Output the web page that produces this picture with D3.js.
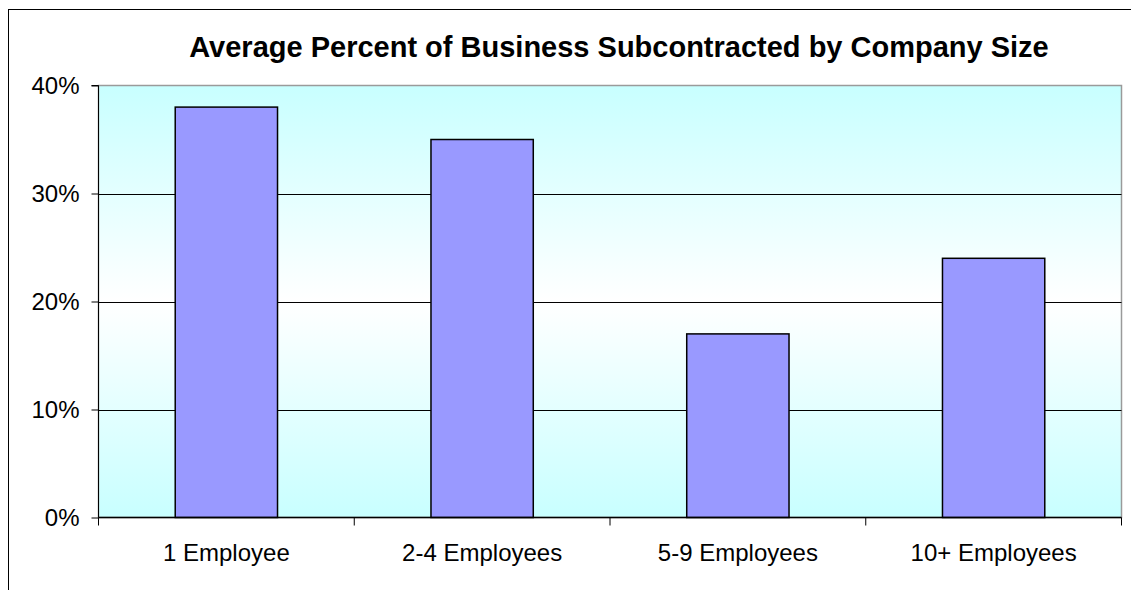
<!DOCTYPE html>
<html>
<head>
<meta charset="utf-8">
<script src="https://cdn.jsdelivr.net/npm/d3@7"></script>
<style>
  html, body { margin: 0; padding: 0; background: #fff; }
  svg { display: block; font-family: Arial, "Liberation Sans", sans-serif; }
</style>
</head>
<body>
<svg id="chart" width="1131" height="590"></svg>
<script>
// Average share of business subcontracted, by company size
const categories = ["1 Employee", "2-4 Employees", "5-9 Employees", "10+ Employees"];
const values = [0.38, 0.35, 0.17, 0.24];
const yTicks = [0, 0.1, 0.2, 0.3, 0.4];
const title = "Average Percent of Business Subcontracted by Company Size";

const svg = d3.select("#chart");
const W = 1131, H = 590;
const plot = { left: 98.5, right: 1121.5, top: 85.5, bottom: 517.5 };

// Outer chart frame
svg.append("rect")
  .attr("x", 8.5).attr("y", 9.5)
  .attr("width", W + 20).attr("height", H + 20)
  .attr("fill", "#fff").attr("stroke", "#000").attr("stroke-width", 1);

// Plot background gradient: cyan at the edges, near-white in the middle
const defs = svg.append("defs");
const grad = defs.append("linearGradient")
  .attr("id", "plotBg").attr("x1", 0).attr("y1", 0).attr("x2", 0).attr("y2", 1);
grad.append("stop").attr("offset", "0%").attr("stop-color", "#c8ffff");
grad.append("stop").attr("offset", "50%").attr("stop-color", "#ffffff");
grad.append("stop").attr("offset", "100%").attr("stop-color", "#c8ffff");

const x = d3.scaleBand()
  .domain(categories)
  .range([plot.left, plot.right])
  .paddingInner(0.6).paddingOuter(0.3);

const y = d3.scaleLinear()
  .domain([0, 0.4])
  .range([plot.bottom, plot.top]);

svg.append("rect")
  .attr("x", plot.left).attr("y", plot.top)
  .attr("width", plot.right - plot.left).attr("height", plot.bottom - plot.top)
  .attr("fill", "url(#plotBg)")
  .attr("stroke", "#9a9a9a").attr("stroke-width", 1.5);

// Horizontal gridlines
svg.append("g")
  .selectAll("line")
  .data(yTicks.filter(t => t > 0 && t < 0.4))
  .join("line")
  .attr("x1", plot.left).attr("x2", plot.right)
  .attr("y1", d => Math.round(y(d)) + 0.5).attr("y2", d => Math.round(y(d)) + 0.5)
  .attr("stroke", "#000").attr("stroke-width", 1);

// Bars
svg.append("g")
  .selectAll("rect")
  .data(values)
  .join("rect")
  .attr("x", (d, i) => x(categories[i]))
  .attr("y", d => y(d))
  .attr("width", x.bandwidth())
  .attr("height", d => y(0) - y(d))
  .attr("fill", "#9999ff")
  .attr("stroke", "#000").attr("stroke-width", 1.5);

// Y axis
const yAxis = d3.axisLeft(y)
  .tickValues(yTicks)
  .tickFormat(d3.format(".0%"))
  .tickSize(7).tickPadding(12);
const gy = svg.append("g")
  .attr("transform", `translate(${plot.left},0)`)
  .call(yAxis);
gy.select(".domain").attr("stroke", "#000").attr("d", `M0,${plot.top}V${plot.bottom}M-7,${plot.top}H0`);
gy.selectAll(".tick line").attr("stroke", "#000");
gy.selectAll(".tick text")
  .attr("font-size", 24).attr("fill", "#000")
  .attr("font-family", "Arial, 'Liberation Sans', sans-serif");

// X axis with ticks at category boundaries
const xAxis = d3.axisBottom(x).tickSize(0).tickPadding(26);
const gx = svg.append("g")
  .attr("transform", `translate(0,${plot.bottom})`)
  .call(xAxis);
gx.select(".domain").attr("stroke", "#000").attr("stroke-width", 1.5).attr("d", `M${plot.left},0H${plot.right}`);
gx.selectAll(".tick text")
  .attr("font-size", 24).attr("fill", "#000")
  .attr("font-family", "Arial, 'Liberation Sans', sans-serif");

const boundaries = d3.range(categories.length + 1).map(i => plot.left + i * (plot.right - plot.left) / categories.length);
gx.append("g")
  .selectAll("line")
  .data(boundaries)
  .join("line")
  .attr("x1", d => d).attr("x2", d => d)
  .attr("y1", 0).attr("y2", 8)
  .attr("stroke", "#000").attr("stroke-width", 1);

// Title
svg.append("text")
  .attr("x", 619).attr("y", 57)
  .attr("text-anchor", "middle")
  .attr("font-size", 29).attr("font-weight", "bold").attr("fill", "#000")
  .text(title);
</script>
</body>
</html>
